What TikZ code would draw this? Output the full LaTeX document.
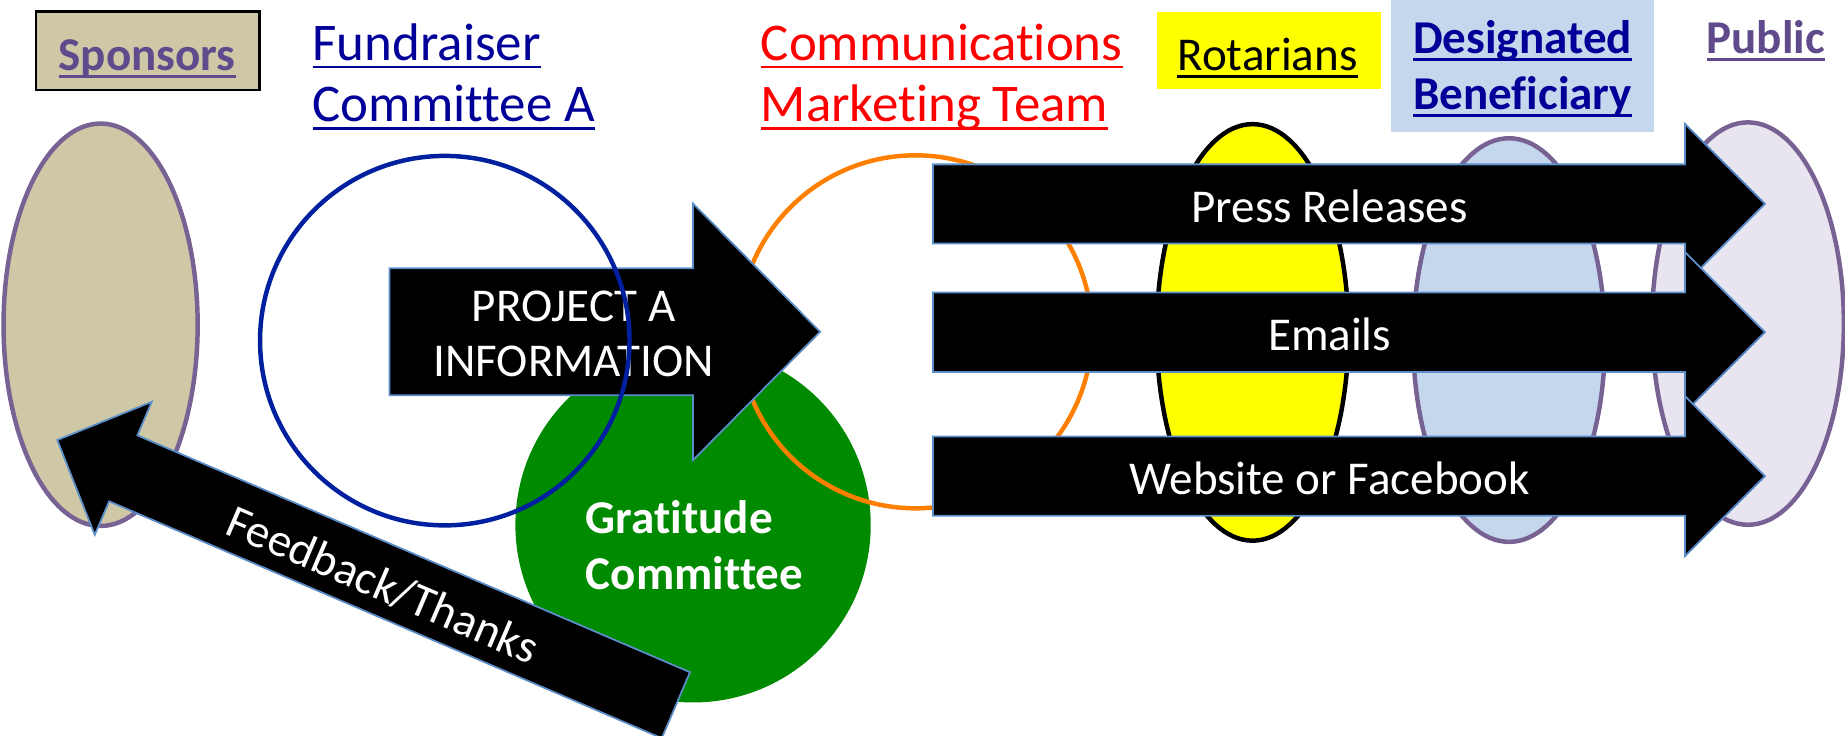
\documentclass[tikz,border=0pt]{standalone}
\usepackage{fontspec}
\setmainfont{Carlito}[Ligatures={NoCommon}]
\usetikzlibrary{shapes.geometric}
\definecolor{tanfill}{RGB}{206,200,166}
\definecolor{purpleline}{RGB}{120,98,148}
\definecolor{purpletext}{RGB}{95,75,139}
\definecolor{navytext}{RGB}{0,0,153}
\definecolor{bluecircle}{RGB}{0,32,159}
\definecolor{orangecircle}{RGB}{255,128,0}
\definecolor{greenfill}{RGB}{0,138,0}
\definecolor{yellowfill}{RGB}{255,255,0}
\definecolor{lightbluefill}{RGB}{196,215,236}
\definecolor{publicfill}{RGB}{232,228,240}
\definecolor{arrowline}{RGB}{91,141,201}
\newcommand\ulin[1]{\setbox0=\hbox{#1}\rlap{\rule[-6.6pt]{\wd0}{2.3pt}}\box0}
\tikzset{
  oval/.style={ellipse, inner sep=0pt, line width=3.8pt},
  ring/.style={circle, inner sep=0pt, line width=3.8pt},
  blockarrow/.style={fill=black, draw=arrowline, line width=1.5pt, line join=miter},
  label/.style={inner sep=0pt, outer sep=0pt},
  arrowtext/.style={label, text=white, font=\fontsize{40}{48}\selectfont},
  headbold/.style={label, font=\fontsize{40}{48}\selectfont\bfseries},
  headreg/.style={label, font=\fontsize{45}{52}\selectfont}
}
\begin{document}
\begin{tikzpicture}[x=1pt,y=-1pt]
\useasboundingbox (0,0) rectangle (1568,625.5);

% header boxes
\node[label, draw=black, line width=2pt, fill=tanfill, minimum width=189.8pt, minimum height=66.6pt, anchor=north west] (spbox) at (30.6,9.9) {};
\node[label, fill=yellowfill, minimum width=190.7pt, minimum height=66pt, anchor=north west] (robox) at (983.2,9.9) {};
\node[label, fill=lightbluefill, minimum width=222.9pt, minimum height=111.9pt, anchor=north west] (dbbox) at (1182.4,0) {};

% header texts
\node[headbold, text=purpletext, anchor=base] (sptext) at (125,59.5) {\ulin{Sponsors}};
\node[headreg, text=navytext, anchor=base west] (fctext) at (265.7,51.5)
  {\vtop{\baselineskip=52pt\hbox{\ulin{Fundraiser}}\hbox{\ulin{Committee A}}}};
\node[headreg, text=red, anchor=base west] (cmtext) at (646.6,51.5)
  {\vtop{\baselineskip=52pt\hbox{\ulin{Communications}}\hbox{\ulin{Marketing Team}}}};
\node[label, font=\fontsize{40}{48}\selectfont, text=black, anchor=base west] (rotext) at (1000.7,59.5) {\ulin{Rotarians}};
\node[headbold, text=navytext, anchor=base] (dbtext) at (1294,45.3)
  {\vtop{\baselineskip=47.6pt\halign{\hfil#\hfil\cr\ulin{Designated}\cr\ulin{Beneficiary}\cr}}};
\node[headbold, text=purpletext, anchor=base] (pbtext) at (1500.7,45.3) {\ulin{Public}};

% ellipses
\node[oval, draw=purpleline, fill=tanfill, minimum width=165pt, minimum height=342pt] (spE) at (85.5,276) {};
\node[oval, draw=black, fill=yellowfill, minimum width=163pt, minimum height=354pt] (roE) at (1064.5,282.5) {};
\node[oval, draw=purpleline, fill=lightbluefill, minimum width=163pt, minimum height=343pt] (dbE) at (1282.5,289) {};
\node[oval, draw=purpleline, fill=publicfill, minimum width=163pt, minimum height=342pt] (pbE) at (1485.5,275) {};

% circles
\node[ring, fill=greenfill, minimum size=302pt] (grC) at (589,446) {};
\node[ring, draw=orangecircle, minimum size=300pt] (orC) at (778,282) {};

% project arrow
\draw[blockarrow] (331,228) -- (589,228) -- (589,173) -- (697,282) -- (589,391) -- (589,336) -- (331,336) -- cycle;
\node[arrowtext, anchor=base] (pjtext) at (487.5,273.4)
  {\vtop{\baselineskip=46.6pt\halign{\hfil#\hfil\cr PROJECT A\cr INFORMATION\cr}}};

% blue circle over the project arrow
\node[ring, draw=bluecircle, minimum size=314pt] (blC) at (378,289.5) {};

% gratitude text
\node[label, text=white, font=\fontsize{40}{48}\selectfont\bfseries, anchor=base west] (grtext) at (498,453)
  {\vtop{\baselineskip=48pt\hbox{Gratitude}\hbox{Committee}}};

% feedback arrow
\begin{scope}[shift={(48.7,374)}, rotate=-23.2]
\draw[blockarrow] (0,0) -- (61,-61.5) -- (61,-30.5) -- (572,-30.5) -- (572,30.5) -- (61,30.5) -- (61,61.5) -- cycle;
\node[arrowtext, transform shape, anchor=base] (fbtext) at (302.7,17.2) {Feedback/Thanks};
\end{scope}

% right arrows
\draw[blockarrow] (793,139.7) -- (1432,139.7) -- (1432,105.3) -- (1500,173.3) -- (1432,241.3) -- (1432,206.9) -- (793,206.9) -- cycle;
\node[arrowtext, anchor=base] (prtext) at (1130,189.3) {Press Releases};
\draw[blockarrow] (793,248.5) -- (1432,248.5) -- (1432,214.3) -- (1500,282.3) -- (1432,350.3) -- (1432,316.1) -- (793,316.1) -- cycle;
\node[arrowtext, anchor=base] (emtext) at (1130,297.5) {Emails};
\draw[blockarrow] (793,371) -- (1432,371) -- (1432,336.7) -- (1500,404.7) -- (1432,472.7) -- (1432,438.4) -- (793,438.4) -- cycle;
\node[arrowtext, anchor=base] (wbtext) at (1130,420) {Website or Facebook};
\end{tikzpicture}
\end{document}
